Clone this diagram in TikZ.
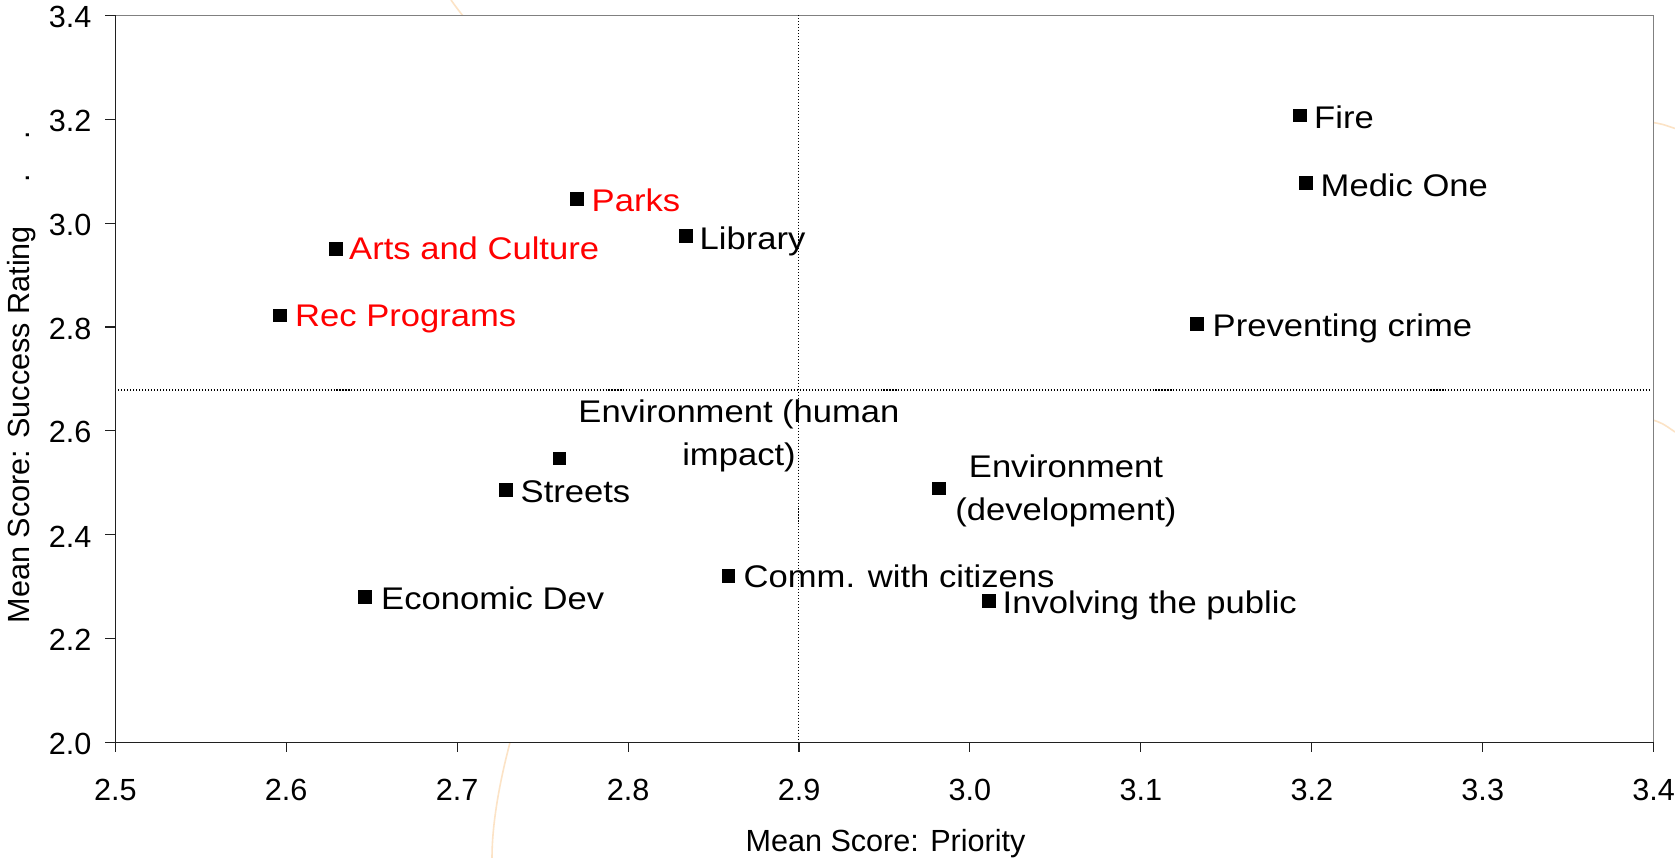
\documentclass[tikz,border=0pt]{standalone}
\usepackage{fontspec}
\setmainfont{Liberation Sans}
\newfontfamily\lblfont{Liberation Sans}[FakeStretch=1.105]
\definecolor{deco}{HTML}{FCE3C6}
\definecolor{framegray}{HTML}{808080}
\definecolor{axisdark}{HTML}{202020}
\begin{document}
\begin{tikzpicture}[x=0.01cm,y=-0.01cm,
  ticklab/.style={inner sep=0pt,font=\fontsize{8.7}{10}\selectfont},
  axtitle/.style={inner sep=0pt,font=\fontsize{8.7}{10}\selectfont},
  marker/.style={rectangle,fill=black,inner sep=0pt,minimum size=3.9pt},
  lbl/.style={anchor=base west,inner sep=0pt,font=\lblfont\fontsize{8.9}{12.23}\selectfont},
  lbltwo/.style={anchor=base,inner sep=0pt,align=center,font=\lblfont\fontsize{8.9}{12.23}\selectfont},
  redlbl/.style={lbl,text=red},
  decoline/.style={draw=deco,line width=0.45pt},
  refline/.style={line width=0.3pt,dash pattern=on 0.3pt off 0.55pt},
  axisline/.style={draw=axisdark,line width=0.3pt},
]
\useasboundingbox (0,0) rectangle (1675,858);
\fill[white] (0,0) rectangle (1675,858);
% faint decorative background arcs
\draw[decoline] (451,0) .. controls (456,7) .. (463,16);
\draw[decoline] (512,735) .. controls (497,790) and (492,830) .. (492,858);
\draw[decoline] (1650,122) .. controls (1662,124) .. (1675,128.5);
\draw[decoline] (1650,419) .. controls (1662,423) .. (1675,432);
% plot area
\fill[white] (115.3,15.3) rectangle (1653.7,742.7);
\draw[framegray,line width=0.3pt] (105,15.3) -- (1653.7,15.3) -- (1653.7,742.7);
% reference lines
\draw[refline] (798.9,15.3) -- (798.9,742.7);
\draw[refline] (115.3,390) -- (1651,390);
% axes
\draw[axisline] (115.3,15.3) -- (115.3,742.7) -- (1653.7,742.7);
\foreach \lab [count=\i from 0] in {2.0,2.2,2.4,2.6,2.8,3.0,3.2,3.4}{
  \pgfmathsetmacro\yy{742.7-103.92*\i}
  \draw[axisline] (105,\yy) -- (115.3,\yy);
  \node[ticklab,anchor=east] (ylab\i) at (92,\yy+1.5) {\lab};
}
\foreach \lab [count=\i from 0] in {2.5,2.6,2.7,2.8,2.9,3.0,3.1,3.2,3.3,3.4}{
  \pgfmathsetmacro\xx{115.3+170.93*\i}
  \draw[axisline] (\xx,742.7) -- (\xx,752.5);
  \node[ticklab] (xlab\i) at (\xx,790) {\lab};
}
% axis titles
\node[axtitle,anchor=base] (xtitle) at (885.5,851) {Mean Score: Priority};
\node[axtitle,anchor=base west,rotate=90] (ytitle) at (30,624) {Mean Score: Success Rating\hspace{12.3pt}.\hspace{9.8pt}.};
% data points
\node[marker] (fire) at (1299.7,115.5) {};
\node[marker] (medic) at (1306.3,183) {};
\node[marker] (crime) at (1197,324) {};
\node[marker] (parks) at (577,199) {};
\node[marker] (library) at (686,236) {};
\node[marker] (arts) at (335.7,248.7) {};
\node[marker] (rec) at (279.7,315.5) {};
\node[marker] (envh) at (559.4,458.5) {};
\node[marker] (streets) at (506,490) {};
\node[marker] (envd) at (939,488.5) {};
\node[marker] (comm) at (728.5,576) {};
\node[marker] (econ) at (365,597) {};
\node[marker] (involve) at (989,601) {};
% labels
\node[lbl] (firelbl) at (1313.5,128.3) {Fire};
\node[lbl] (mediclbl) at (1320,197) {Medic One};
\node[lbl] (crimelbl) at (1212,337) {Preventing crime};
\node[redlbl] (parkslbl) at (591,211.5) {Parks};
\node[lbl] (librarylbl) at (699,250) {Library};
\node[redlbl] (artslbl) at (348.5,260) {Arts and Culture};
\node[redlbl] (reclbl) at (294.5,326.7) {Rec Programs};
\node[lbltwo] (envhlbl) at (739,465.5) {Environment (human\\impact)};
\node[lbl] (streetslbl) at (520,503) {Streets};
\node[lbltwo] (envdlbl) at (1066,520.5) {Environment\\(development)};
\node[lbl] (commlbl) at (743,587.3) {Comm. with citizens};
\node[lbl] (econlbl) at (380.5,610) {Economic Dev};
\node[lbl] (involvelbl) at (1002,613.3) {Involving the public};
\end{tikzpicture}
\end{document}
